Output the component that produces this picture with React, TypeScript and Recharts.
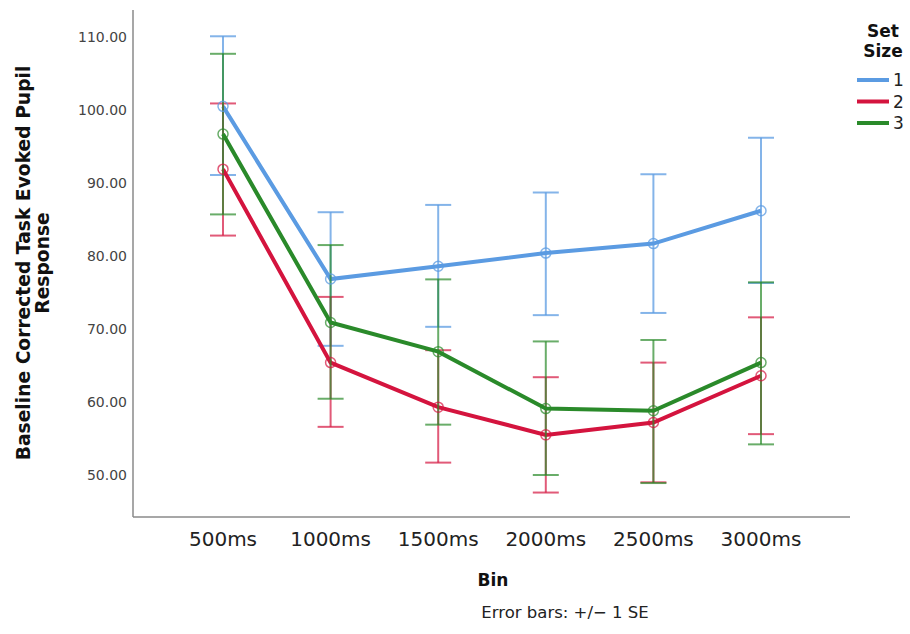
import React from 'react';
import { LineChart, Line, XAxis, YAxis, ErrorBar, Customized } from 'recharts';

const bins = ['500ms', '1000ms', '1500ms', '2000ms', '2500ms', '3000ms'];

const mean1 = [100.5, 76.85, 78.6, 80.4, 81.7, 86.2];
const low1 = [91.1, 67.7, 70.3, 71.9, 72.2, 76.3];
const high1 = [110.1, 86.0, 87.0, 88.7, 91.2, 96.2];

const mean2 = [91.9, 65.4, 59.3, 55.5, 57.2, 63.6];
const low2 = [82.8, 56.6, 51.7, 47.6, 49.0, 55.6];
const high2 = [100.9, 74.4, 67.1, 63.4, 65.4, 71.6];

const mean3 = [96.7, 70.9, 66.9, 59.1, 58.8, 65.4];
const low3 = [85.7, 60.45, 56.9, 50.0, 48.9, 54.2];
const high3 = [107.7, 81.5, 76.8, 68.3, 68.5, 76.4];

const yTicks = [50, 60, 70, 80, 90, 100, 110];

const seriesNames = ['1', '2', '3'];
const colors = ['#5b9be2', '#d4143e', '#2a8a2a'];
const errColors = ['rgba(91,155,226,0.75)', 'rgba(212,20,62,0.7)', 'rgba(42,138,42,0.7)'];

const data = bins.map((b, i) => ({
  bin: b,
  s1: mean1[i],
  e1: [mean1[i] - low1[i], high1[i] - mean1[i]],
  s2: mean2[i],
  e2: [mean2[i] - low2[i], high2[i] - mean2[i]],
  s3: mean3[i],
  e3: [mean3[i] - low3[i], high3[i] - mean3[i]],
}));

const TITLE_FONT = '"DejaVu Sans", sans-serif';
const BODY_FONT = '"DejaVu Sans", sans-serif';

const Texts = () => (
  <g>
    <text
      x={30}
      y={263}
      transform="rotate(-90, 30, 263)"
      textAnchor="middle"
      fontFamily={TITLE_FONT}
      fontWeight="bold"
      fontSize={18.7}
      fill="#111"
    >
      Baseline Corrected Task Evoked Pupil
    </text>
    <text
      x={49}
      y={263}
      transform="rotate(-90, 49, 263)"
      textAnchor="middle"
      fontFamily={TITLE_FONT}
      fontWeight="bold"
      fontSize={18.7}
      fill="#111"
    >
      Response
    </text>
    <text x={493} y={586} textAnchor="middle" fontFamily={TITLE_FONT} fontWeight="bold" fontSize={17} fill="#111">
      Bin
    </text>
    <text x={565} y={618} textAnchor="middle" fontFamily={BODY_FONT} fontSize={16.5} fill="#222">
      Error bars: +/− 1 SE
    </text>
    <text x={883} y={37} textAnchor="middle" fontFamily={TITLE_FONT} fontWeight="bold" fontSize={17} fill="#111">
      Set
    </text>
    <text x={883} y={57} textAnchor="middle" fontFamily={TITLE_FONT} fontWeight="bold" fontSize={17} fill="#111">
      Size
    </text>
    {seriesNames.map((n, i) => (
      <g key={n}>
        <line x1={857} x2={889} y1={80 + i * 21.5} y2={80 + i * 21.5} stroke={colors[i]} strokeWidth={4} />
        <text x={893} y={86 + i * 21.5} fontFamily={BODY_FONT} fontSize={17} fill="#222">
          {n}
        </text>
      </g>
    ))}
  </g>
);

export default function App() {
  return (
    <div style={{ position: 'absolute', left: 0, top: 0, width: 910, height: 634, background: '#fff' }}>
      <LineChart width={910} height={634} data={data} margin={{ top: 10, right: 60, bottom: 0, left: 0 }}>
        <XAxis
          dataKey="bin"
          height={117}
          padding={{ left: 90, right: 89 }}
          tickLine={false}
          tickSize={6}
          tickMargin={9}
          stroke="#8a8a8a"
          strokeWidth={1.5}
          tick={{ fontFamily: BODY_FONT, fontSize: 20, fill: '#222' }}
          interval={0}
        />
        <YAxis
          width={133}
          domain={[44.25, 113.7]}
          allowDataOverflow
          ticks={yTicks}
          tickFormatter={(v: number) => v.toFixed(2)}
          tickLine={false}
          tickSize={4}
          tickMargin={2}
          stroke="#8a8a8a"
          strokeWidth={1.5}
          tick={{ fontFamily: BODY_FONT, fontSize: 14, fill: '#444' }}
        />
        {[1, 2, 3].map((k, i) => (
          <Line
            key={k}
            type="linear"
            dataKey={`s${k}`}
            name={seriesNames[i]}
            stroke={colors[i]}
            strokeWidth={4}
            dot={{ r: 5, fill: 'none', stroke: errColors[i], strokeWidth: 1.5 }}
            activeDot={false}
            isAnimationActive={false}
          >
            <ErrorBar
              dataKey={`e${k}`}
              direction="y"
              width={13}
              stroke={errColors[i]}
              strokeWidth={2}
              isAnimationActive={false}
            />
          </Line>
        ))}
        <Customized component={Texts} />
      </LineChart>
    </div>
  );
}
